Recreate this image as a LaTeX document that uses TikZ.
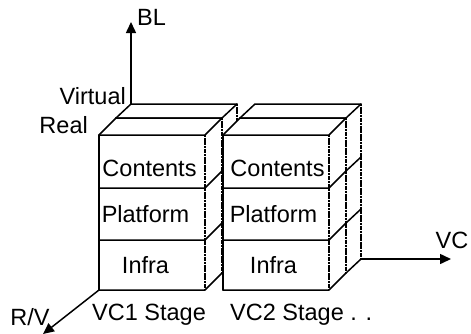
\documentclass[tikz,border=0pt]{standalone}
\usepackage{fontspec}
\setmainfont{Liberation Sans}
\usetikzlibrary{arrows.meta}

% Layered cuboid: #1,#2 = front top-left corner, #3,#4 = depth offset (right, up)
\newcommand\layeredbox[4]{%
  \path[face] (#1,#2) -- ++(#3,-#4) -- ++(106,0) -- ++(0,155)
              -- ++(-#3,#4) -- ++(-106,0) -- cycle;
  \draw[edge] (#1,#2) -- ++(#3,-#4) -- ++(106,0);
  \foreach \yy in {0,53,105,155}
    \draw[edge] (#1,{#2+\yy}) -- ++(106,0) -- ++(#3,-#4);
  \draw[edge] (#1,#2) -- ++(0,155);
  \draw[vedge] ({#1+106},#2) -- ++(0,155);
  \draw[vedge] ({#1+106+#3},{#2-#4}) -- ++(0,155);
}

\begin{document}
\begin{tikzpicture}[x=1pt,y=-1pt,
  edge/.style={line width=1.5pt, line join=round, line cap=round},
  vedge/.style={line width=1.3pt, dash pattern=on 2.2pt off 0.5pt},
  face/.style={fill=white},
  lbl/.style={font=\fontsize{23.5}{28}\selectfont, inner sep=0pt},
  axis/.style={line width=1.5pt, -{Triangle[length=11pt,width=10pt]}}]
  \useasboundingbox (0,0) rectangle (471,333);

  % stage 1: virtual layer behind, real layer in front
  \layeredbox{116}{118}{15}{14}
  \layeredbox{99}{135}{17}{17}
  % stage 2
  \layeredbox{240}{118}{15}{14}
  \layeredbox{223}{135}{17}{17}

  % layer labels
  \node[lbl, anchor=base] (c1) at (149.5,176) {Contents};
  \node[lbl, anchor=base] (p1) at (145.5,222) {Platform};
  \node[lbl, anchor=base] (i1) at (145.5,273) {Infra};
  \node[lbl, anchor=base] (c2) at (277.5,176) {Contents};
  \node[lbl, anchor=base] (p2) at (273.5,222) {Platform};
  \node[lbl, anchor=base] (i2) at (273.5,273) {Infra};

  % axes
  \coordinate (blbase) at (131,104);
  \coordinate (bltip) at (131,22);
  \coordinate (rvbase) at (99,290);
  \coordinate (rvtip) at (43,334);
  \coordinate (vcbase) at (361,259);
  \coordinate (vctip) at (451,259);
  \draw[axis] (blbase) -- (bltip);
  \draw[axis] (rvbase) -- (rvtip);
  \draw[axis] (vcbase) -- (vctip);

  % axis and stage labels
  \node[lbl, anchor=west] (bl) at (137,17) {BL};
  \node[lbl, anchor=east] (virt) at (126,96) {Virtual};
  \node[lbl, anchor=east] (real) at (88,125) {Real};
  \node[lbl] (rv) at (30,317) {R/V};
  \node[lbl] (vc) at (452,240) {VC};
  \node[lbl, anchor=base west] (s1) at (92,320) {VC1 Stage};
  \node[lbl, anchor=base west] (s2) at (230,320) {VC2 Stage . .};
\end{tikzpicture}
\end{document}
